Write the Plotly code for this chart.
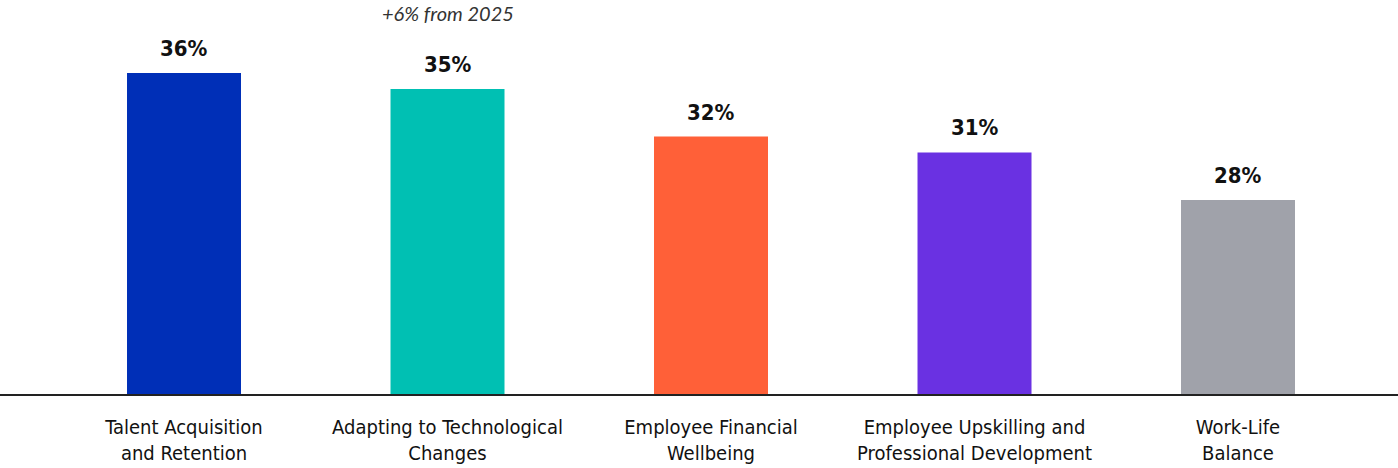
import plotly.graph_objects as go

# Share of respondents naming each as a top priority
categories = [
    "Talent Acquisition<br>and Retention",
    "Adapting to Technological<br>Changes",
    "Employee Financial<br>Wellbeing",
    "Employee Upskilling and<br>Professional Development",
    "Work-Life<br>Balance",
]
values = [36, 35, 32, 31, 28]
value_labels = ["36%", "35%", "32%", "31%", "28%"]
bar_colors = ["#002FB7", "#00C0B3", "#FF6038", "#6A31E2", "#A0A2AA"]
note_text = "+6% from 2025"
note_index = 1

x_idx = list(range(len(categories)))
narrow = "Liberation Sans Narrow, DejaVu Sans Condensed, Arial Narrow, sans-serif"

fig = go.Figure()
fig.add_trace(go.Bar(
    x=x_idx,
    y=values,
    marker=dict(color=bar_colors, line=dict(width=0)),
    width=0.4326,
    hoverinfo="skip",
))

for i, (v, t) in enumerate(zip(values, value_labels)):
    fig.add_annotation(x=i, y=v, text=f"<b>{t}</b>", showarrow=False,
                       yanchor="bottom", yshift=10,
                       font=dict(family=narrow, size=22, color="#111111"))

fig.add_annotation(x=note_index, y=values[note_index], text=f"<i>{note_text}</i>",
                   showarrow=False, yanchor="bottom", yshift=62,
                   font=dict(family="Lato, Open Sans, sans-serif", size=20, color="#333333"))

fig.update_layout(
    width=1398, height=468,
    margin=dict(l=0, r=0, t=0, b=74),
    paper_bgcolor="white", plot_bgcolor="white",
    showlegend=False,
    xaxis=dict(
        range=[-0.6983, 4.6072],
        tickmode="array", tickvals=x_idx, ticktext=categories,
        showline=True, linecolor="#222222", linewidth=1.5,
        showgrid=False, zeroline=False, ticks="",
        tickfont=dict(family=narrow, size=20, color="#111111"),
        ticklabelstandoff=14,
    ),
    yaxis=dict(range=[15.78, 40.6], visible=False, showgrid=False, zeroline=False),
)

fig.write_html("out.html")
